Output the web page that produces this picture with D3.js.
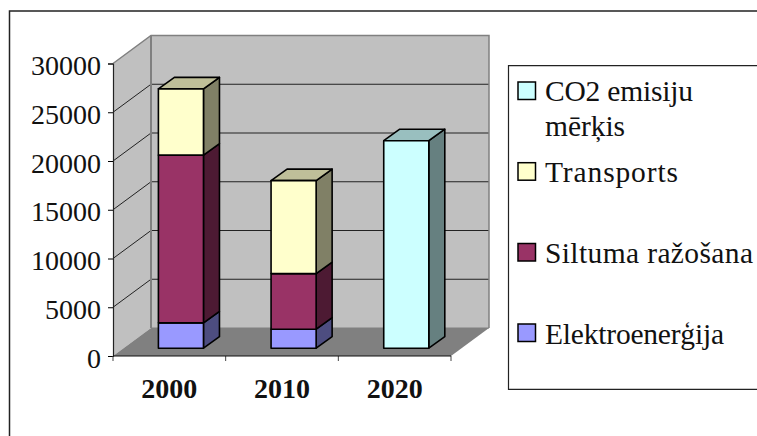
<!DOCTYPE html>
<html><head><meta charset="utf-8">
<script src="https://cdn.jsdelivr.net/npm/d3@7"></script>
<style>html,body{margin:0;padding:0;background:#fff}svg{display:block}text{font-family:"Liberation Serif",serif;fill:#111}</style>
</head><body><svg id="c" width="757" height="436"></svg>
<script>
const categories = ["2000","2010","2020"];
const elektro    = [2600,1950,0];
const siltuma    = [17200,5700,0];
const transports = [6800,9540,0];
const co2        = [0,0,21280];
const yTicks     = [0,5000,10000,15000,20000,25000,30000];
const seriesNames = ["Elektroenerģija","Siltuma ražošana","Transports","CO2 emisiju mērķis"];
const seriesData  = [elektro,siltuma,transports,co2];
const fills = ["#9999ff","#993366","#ffffcc","#ccffff"];
const legendRows = [
  {lines:["CO2 emisiju","mērķis"],s:3,base:[100.7,136],w:[148,80],sw:82},
  {lines:["Transports"],s:2,base:[181.7],w:[133],sw:162.7},
  {lines:["Siltuma ražošana"],s:1,base:[262.7],w:[208],sw:243.5},
  {lines:["Elektroenerģija"],s:0,base:[344],w:[179],sw:324}
];
const svg = d3.select("#c");
const x0=113,x1=451,wallDx=38,wallDy=-28,barDx=11.6,barDy=-8,depthDx=16,depthDy=-11.5;
const y = d3.scaleLinear().domain([0,30000]).range([356,63.5]);
const x = d3.scaleBand().domain(categories).range([x0,x1]).paddingInner(0.6).paddingOuter(0.3);
const path = p => "M"+p.map(q=>q.join(",")).join("L")+"Z";
const y0=y(0), yT=y(30000);
// frame
svg.append("path").attr("d",`M9.5,436V11H757`).attr("fill","none").attr("stroke","#222").attr("stroke-width",1.5);
// walls
const wall="#c0c0c0", wallEdge="#808080";
svg.append("path").attr("d",path([[x0,y0],[x0,yT],[x0+wallDx,yT+wallDy],[x0+wallDx,y0+wallDy]])).attr("fill",wall);
svg.append("path").attr("d",path([[x0+wallDx,y0+wallDy],[x0+wallDx,yT+wallDy],[x1+wallDx,yT+wallDy],[x1+wallDx,y0+wallDy]])).attr("fill",wall);
svg.append("path").attr("d",path([[x0,y0],[x0+wallDx,y0+wallDy],[x1+wallDx,y0+wallDy],[x1,y0]])).attr("fill","#808080");
// grid
yTicks.slice(1,-1).forEach(t=>{
  svg.append("path").attr("d",`M${x0},${y(t)}L${x0+wallDx},${y(t)+wallDy}H${x1+wallDx}`).attr("fill","none").attr("stroke","#222").attr("stroke-width",1);
});
svg.append("path").attr("d",`M${x0},${yT}L${x0+wallDx},${yT+wallDy}H${x1+wallDx}V${y0+wallDy}`).attr("fill","none").attr("stroke",wallEdge).attr("stroke-width",1.5);
svg.append("path").attr("d",`M${x0+wallDx},${yT+wallDy}V${y0+wallDy}`).attr("fill","none").attr("stroke",wallEdge).attr("stroke-width",2);
svg.append("path").attr("d",`M${x0+wallDx},${y0+wallDy}H${x1+wallDx}`).attr("stroke",wallEdge).attr("stroke-width",1);
// bars
const stack = categories.map((c,i)=>{let acc=0;return seriesData.map((d,s)=>{const a=acc;acc+=d[i];return {c,s,a,b:acc,v:d[i]};}).filter(d=>d.v>0);});
stack.forEach(col=>col.forEach((d,j)=>{
  const l=x(d.c)+barDx, r=l+x.bandwidth(), b=y(d.a)-y0+348.2, t=y(d.b)-y0+348.2;
  const g=svg.append("g").attr("stroke","#000").attr("stroke-width",1.6).attr("stroke-linejoin","round");
  const col0=d3.color(fills[d.s]);
  g.append("path").attr("d",path([[r,b],[r,t],[r+depthDx,t+depthDy],[r+depthDx,b+depthDy]])).attr("fill",d3.rgb(col0.r*.5,col0.g*.5,col0.b*.5));
  if(j===col.length-1) g.append("path").attr("d",path([[l,t],[l+depthDx,t+depthDy],[r+depthDx,t+depthDy],[r,t]])).attr("fill",d3.rgb(col0.r*.75,col0.g*.75,col0.b*.75));
  g.append("rect").attr("x",l).attr("y",t).attr("width",r-l).attr("height",b-t).attr("fill",fills[d.s]);
}));
// axes
const ya=svg.append("g").attr("transform",`translate(${x0},2.5)`).call(d3.axisLeft(y).tickValues(yTicks).tickSize(5).tickPadding(7).tickFormat(d3.format("d")));
ya.attr("transform",`translate(${x0},0)`);
ya.selectAll("text").attr("font-size",28).attr("dy","0.4em").style("font-family",'"Liberation Serif",serif').attr("fill","#111");
ya.select(".domain").attr("stroke","#222").attr("stroke-width",1.2);
const xa=svg.append("g").attr("transform",`translate(0,${y0})`).call(d3.axisBottom(x).tickSize(0).tickPadding(22));
xa.select(".domain").remove();
xa.selectAll("text").attr("font-size",28).attr("font-weight","bold").style("font-family",'"Liberation Serif",serif').attr("fill","#111");
const edges=d3.range(categories.length+1).map(i=>x0+i*(x1-x0)/categories.length);
svg.append("g").selectAll("line").data(edges).join("line").attr("x1",d=>d).attr("x2",d=>d).attr("y1",y0).attr("y2",y0+5).attr("stroke","#444");
svg.append("line").attr("x1",x0).attr("x2",x1).attr("y1",y0).attr("y2",y0).attr("stroke","#111").attr("stroke-width",1.2);
// legend
svg.append("path").attr("d","M757,65.7H508.5V389.3H757").attr("fill","#fff").attr("stroke","#222").attr("stroke-width",1.2);
legendRows.forEach(r=>{
  svg.append("rect").attr("x",518).attr("y",r.sw).attr("width",17.5).attr("height",17.5).attr("fill",fills[r.s]).attr("stroke","#000").attr("stroke-width",1.5);
  r.lines.forEach((t,i)=>svg.append("text").attr("x",545).attr("y",r.base[i]).attr("font-size",29.5).attr("textLength",r.w[i]).attr("lengthAdjust","spacing").text(t));
});
</script></body></html>
